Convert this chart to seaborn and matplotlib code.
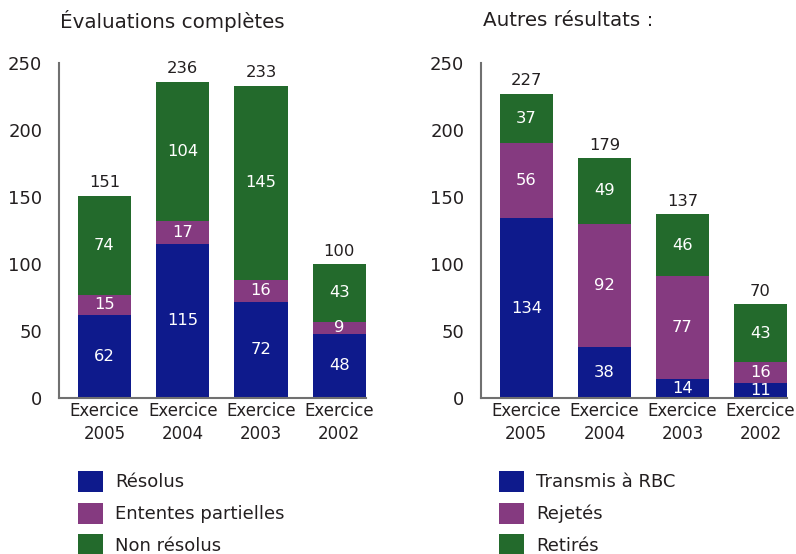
import numpy as np
import pandas as pd
import matplotlib
matplotlib.use("Agg")
import matplotlib.pyplot as plt
from matplotlib.patches import Patch
import seaborn as sns

# data
categories = ["Exercice\n2005", "Exercice\n2004", "Exercice\n2003", "Exercice\n2002"]

left_title = "Évaluations complètes"
left_labels = ["Résolus", "Ententes partielles", "Non résolus"]
resolus = [62, 115, 72, 48]
ententes = [15, 17, 16, 9]
non_resolus = [74, 104, 145, 43]

right_title = "Autres résultats :"
right_labels = ["Transmis à RBC", "Rejetés", "Retirés"]
transmis = [134, 38, 14, 11]
rejetes = [56, 92, 77, 16]
retires = [37, 49, 46, 43]

y_ticks = [0, 50, 100, 150, 200, 250]

colors = ["#0e1a8c", "#853a80", "#236a2c"]
spine_col = "#707070"
text_col = "#231f20"

sns.set_theme(style="white")
plt.rcParams["font.family"] = ["DejaVu Sans"]
plt.rcParams["text.color"] = text_col

fig = plt.figure(figsize=(7.96, 5.54), dpi=100)
fig.patch.set_facecolor("white")
ax_l = fig.add_axes([0.0741, 0.2816, 0.3857, 0.6047])
ax_r = fig.add_axes([0.6043, 0.2816, 0.3844, 0.6047])


def stacked(ax, series, labels, title, title_x):
    df = pd.DataFrame({"cat": categories})
    for name, vals in zip(labels, series):
        df[name] = vals
    cum = np.cumsum(np.array(series), axis=0)
    # draw from the top segment down so lower ones cover the upper
    for i in range(len(series) - 1, -1, -1):
        sns.barplot(x=df["cat"], y=cum[i], color=colors[i], width=0.68,
                    saturation=1, ax=ax, linewidth=0, order=categories)
    # white labels inside each segment
    for i, vals in enumerate(series):
        base = cum[i] - np.array(vals)
        for j, v in enumerate(vals):
            ax.text(j, base[j] + v / 2, str(v), ha="center", va="center",
                    color="white", fontsize=11.8)
    totals = cum[-1]
    for j, t in enumerate(totals):
        ax.text(j, t + 4, str(t), ha="center", va="bottom",
                color=text_col, fontsize=11.8)
    ax.set_ylim(0, 250)
    ax.set_xlim(-0.58, 3.34)
    ax.set_yticks(y_ticks)
    ax.set_xlabel("")
    ax.set_ylabel("")
    for s in ["top", "right"]:
        ax.spines[s].set_visible(False)
    for s in ["left", "bottom"]:
        ax.spines[s].set_color(spine_col)
        ax.spines[s].set_linewidth(1.5)
    ax.tick_params(axis="y", direction="in", length=9, width=1.5,
                   color=spine_col, labelsize=13, labelcolor=text_col, pad=12)
    ax.tick_params(axis="x", length=0, labelsize=12, labelcolor=text_col, pad=3)
    for lab in ax.get_xticklabels():
        lab.set_linespacing(1.35)
    ax.set_facecolor("white")
    fig.text(title_x, 1 - 21 / 554, title, fontsize=14.3, ha="left",
             va="center", color=text_col)


stacked(ax_l, [resolus, ententes, non_resolus], left_labels, left_title, 60 / 796)
stacked(ax_r, [transmis, rejetes, retires], right_labels, right_title, 483 / 796)

# legends below each panel
for labels, x0 in [(left_labels, 78 / 796), (right_labels, 499 / 796)]:
    handles = [Patch(facecolor=c, edgecolor="none", label=l)
               for c, l in zip(colors, labels)]
    fig.legend(handles=handles, loc="upper left",
               bbox_to_anchor=(x0, 1 - 471 / 554), frameon=False,
               fontsize=13, handlelength=1.4, handleheight=1.4,
               handletextpad=0.65, labelspacing=0.6, borderaxespad=0,
               borderpad=0)

fig.savefig("out.png", dpi=100, facecolor="white")
